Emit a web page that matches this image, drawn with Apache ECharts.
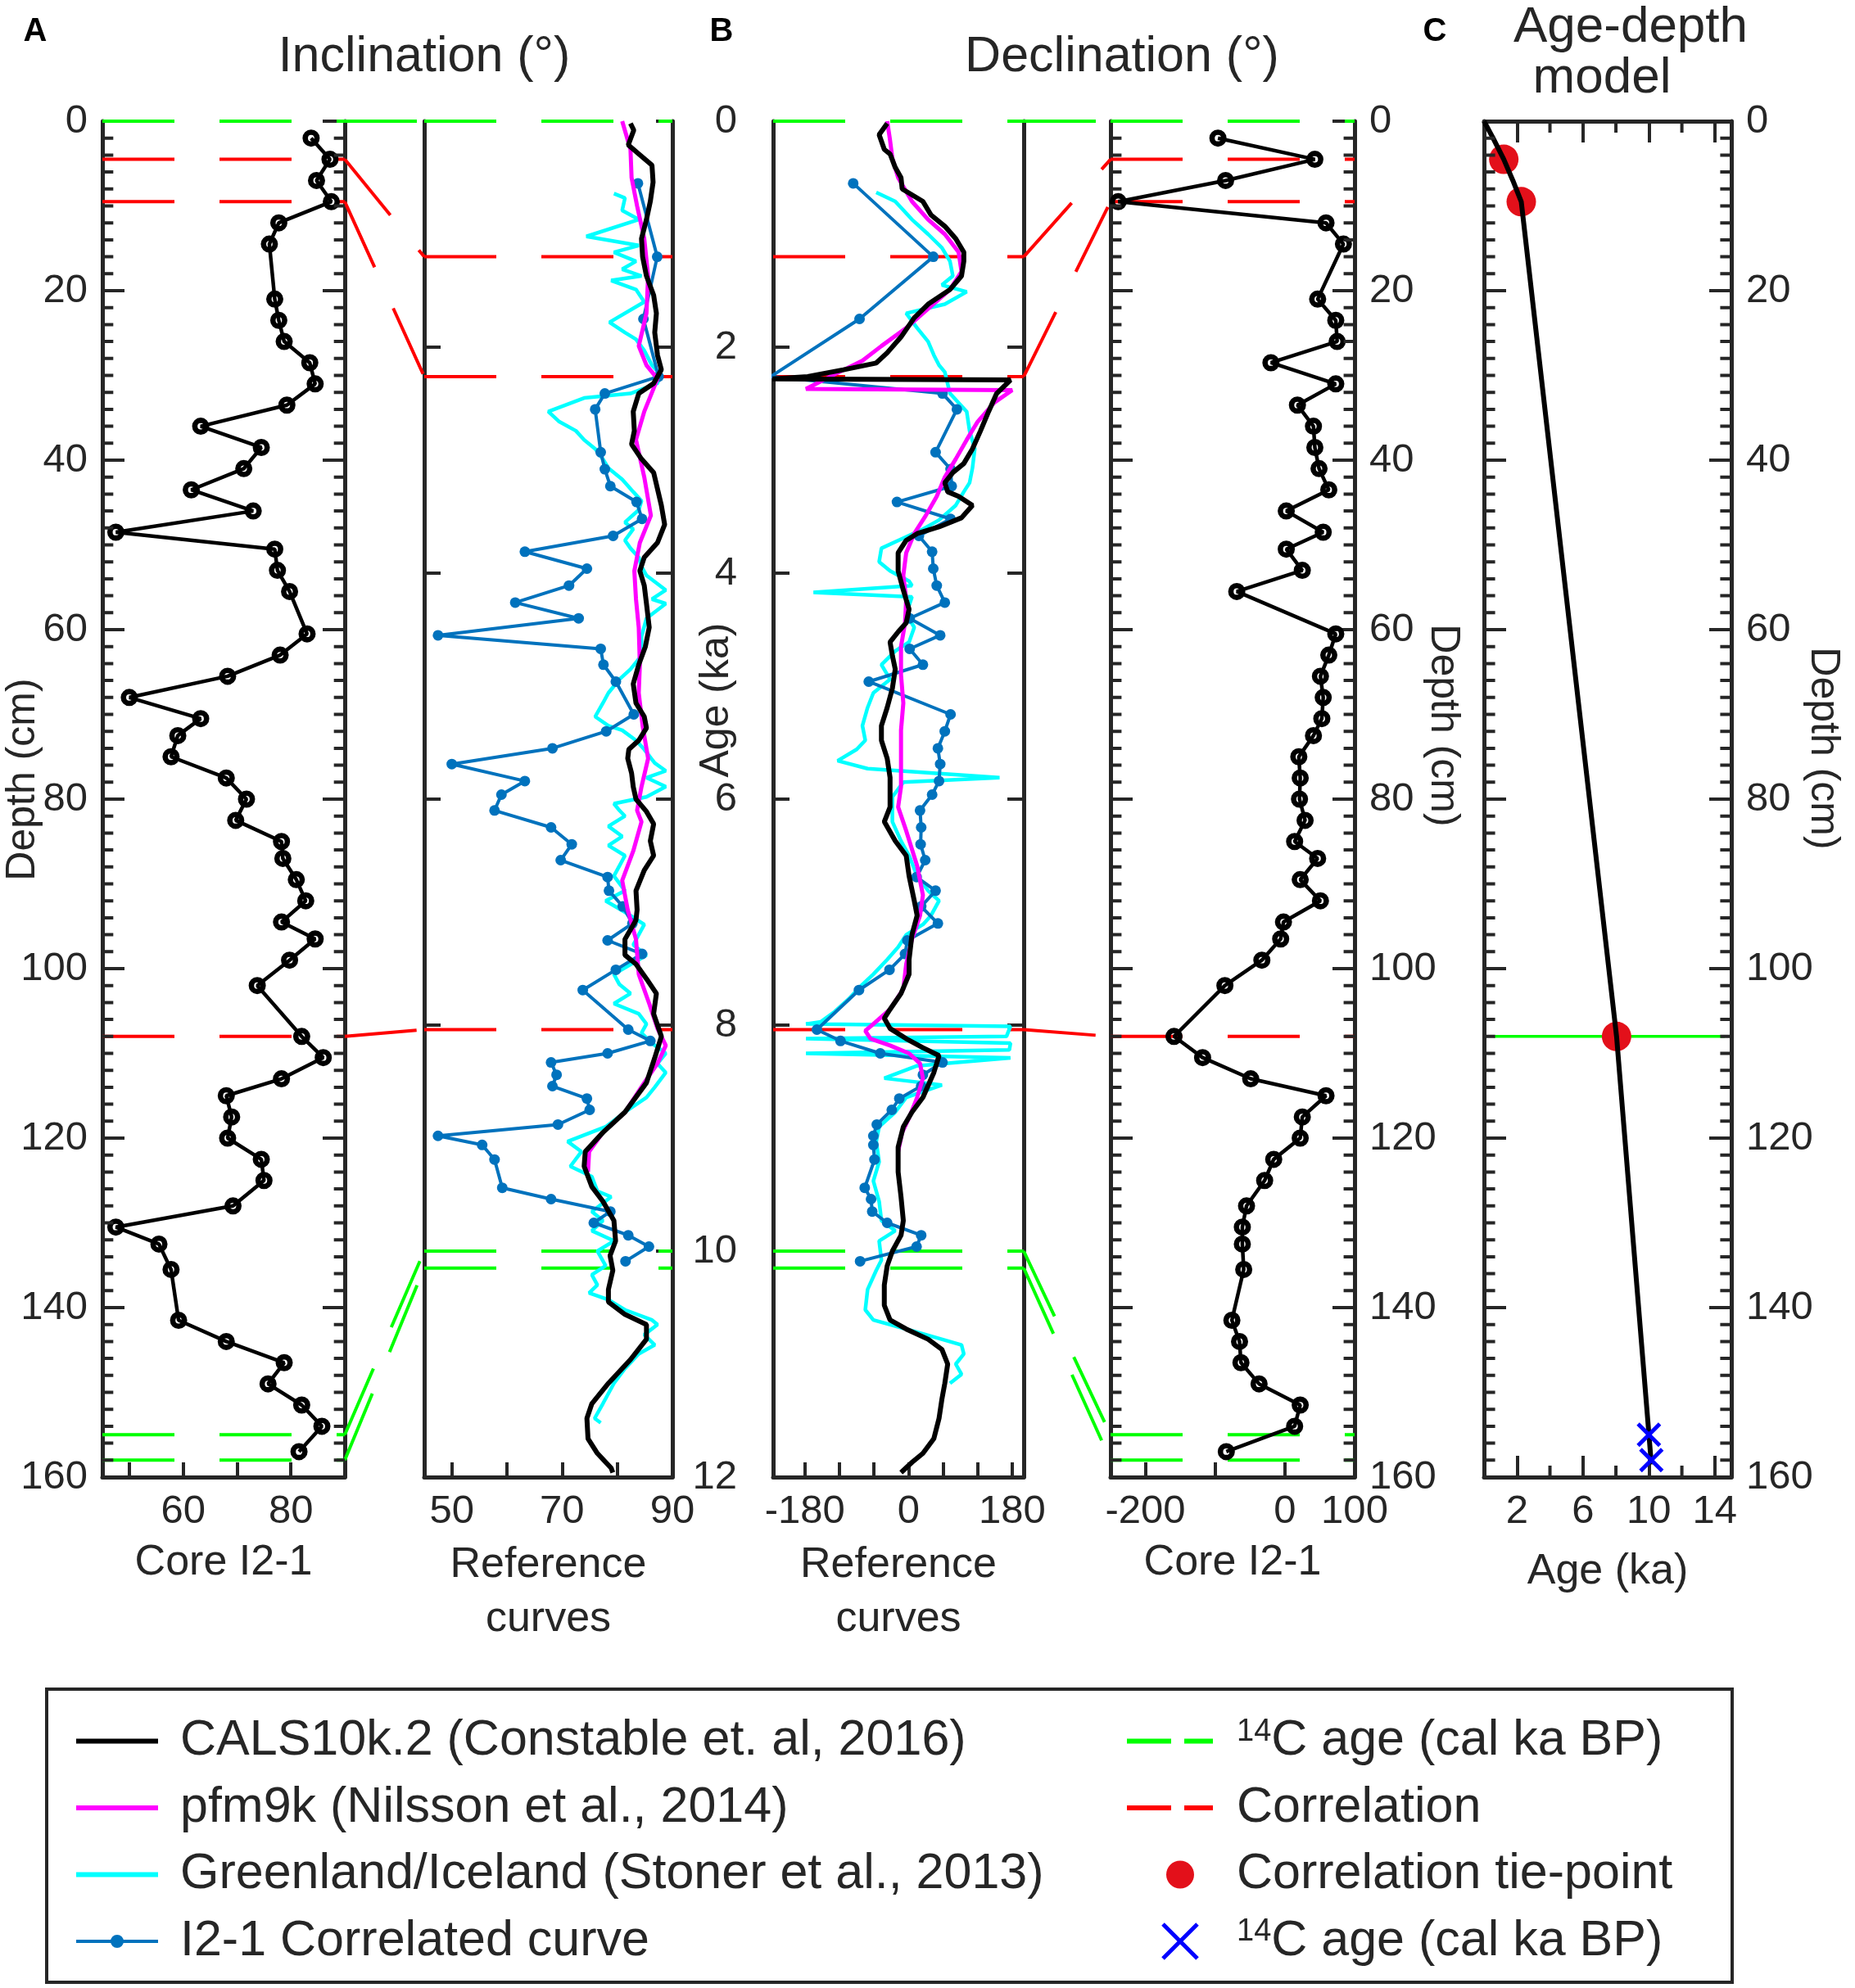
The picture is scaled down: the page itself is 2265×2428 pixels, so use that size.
<!DOCTYPE html>
<html>
<head>
<meta charset="utf-8">
<title>Core I2-1 paleomagnetic correlation</title>
<script src="https://cdn.jsdelivr.net/npm/echarts@6.0.0/dist/echarts.min.js"></script>
<style>
html,body{margin:0;padding:0;background:#ffffff;}
#chart{width:2265px;height:2428px;}
</style>
</head>
<body>
<div id="chart"></div>
<script>
// ---------------- DATA ----------------
const coreDepth = [2,4.5,7,9.5,12,14.5,21,23.5,26,28.5,31,33.5,36,38.5,41,43.5,46,48.5,50.5,53,55.5,60.5,63,65.5,68,70.5,72.5,75,77.5,80,82.5,85,87,89.5,92,94.5,96.5,99,102,108,110.5,113,115,117.5,120,122.5,125,128,130.5,132.5,135.5,141.5,144,146.5,149,151.5,154,157];
const coreInc = [83.75,87.25,84.75,87.5,77.75,76.0,77.0,77.75,78.75,83.5,84.5,79.25,63.25,74.5,71.25,61.5,73.0,47.5,77.0,77.5,79.75,83.0,78.0,68.25,50.0,63.25,59.0,57.75,68.0,71.75,69.75,78.25,78.5,81.0,82.75,78.25,84.5,79.75,73.75,82.0,86.0,78.25,68.0,69.0,68.25,74.5,75.0,69.25,47.5,55.5,57.75,59.15,68.0,78.75,75.75,82.0,85.75,81.5];
const coreDec = [-96,43,-85,-239,59,84,47,73,75,-20,73,18,41,43,49,63,2,55,2,25,-69,73,63,51,55,53,41,20,22,21,29,14,47,22,51,-2,-6,-33,-86,-159,-118,-49,59,25,22,-16,-29,-55,-61,-61,-59,-76,-65,-63,-37,22,14,-84];
const correlatedAge = [0.55,1.2,1.75,2.26,2.41,2.55,2.93,3.08,3.23,3.37,3.52,3.67,3.81,3.96,4.11,4.26,4.40,4.55,4.67,4.81,4.96,5.25,5.40,5.55,5.69,5.84,5.96,6.10,6.25,6.40,6.54,6.69,6.81,6.95,7.10,7.25,7.37,7.51,7.69,8.04,8.14,8.25,8.33,8.44,8.54,8.65,8.75,8.88,8.98,9.06,9.19,9.44,9.54,9.65,9.75,9.86,9.96,10.09];

const calsIncAge = [0.02,0.08,0.21,0.29,0.39,0.54,0.71,0.87,1.04,1.20,1.37,1.54,1.70,1.87,2.07,2.20,2.32,2.41,2.57,2.74,2.86,2.99,3.11,3.40,3.57,3.73,3.86,3.98,4.11,4.27,4.48,4.65,4.81,4.98,5.15,5.27,5.37,5.48,5.56,5.64,5.77,5.89,6.00,6.11,6.22,6.37,6.50,6.63,6.81,6.98,7.07,7.24,7.38,7.46,7.59,7.72,7.90,8.10,8.29,8.51,8.77,8.95,9.12,9.25,9.43,9.56,9.73,9.91,10.04,10.17,10.34,10.45,10.56,10.65,10.78,10.96,11.17,11.35,11.48,11.66,11.79,11.92,11.96];
const calsInc = [82.4,83.0,82.0,83.9,86.3,86.5,86.0,85.3,84.4,84.6,85.3,86.6,87.1,86.8,87.3,88.0,86.6,83.9,82.9,83.1,82.6,84.4,86.6,88.0,88.6,87.3,84.9,84.1,84.9,85.3,85.8,85.1,83.9,82.9,83.4,84.9,85.3,83.9,82.1,81.9,82.6,82.9,83.4,85.3,86.6,86.0,86.6,84.9,83.4,83.6,83.4,81.4,81.4,83.4,85.3,87.1,86.6,88.0,86.8,85.3,81.4,77.4,74.2,74.0,75.4,77.4,79.4,79.7,78.7,79.2,78.4,78.4,81.4,85.3,85.3,82.4,78.4,75.4,74.5,74.7,76.4,78.9,79.2];
const calsDecAge = [0.02,0.12,0.25,0.29,0.41,0.50,0.60,0.71,0.83,0.93,1.04,1.16,1.24,1.37,1.49,1.62,1.74,1.91,2.05,2.14,2.20,2.26,2.28,2.29,2.41,2.57,2.74,2.90,3.03,3.11,3.20,3.28,3.32,3.40,3.51,3.59,3.65,3.71,3.82,3.98,4.15,4.32,4.44,4.52,4.61,4.73,4.85,5.02,5.19,5.35,5.48,5.64,5.81,5.98,6.07,6.20,6.37,6.50,6.68,6.90,7.03,7.20,7.42,7.55,7.72,7.86,7.94,8.03,8.12,8.20,8.27,8.42,8.64,8.77,8.90,9.08,9.30,9.52,9.73,9.86,10.00,10.13,10.30,10.48,10.61,10.69,10.78,10.87,11.00,11.17,11.31,11.48,11.66,11.79,11.87,11.96];
const calsDec = [-37,-51,-42,-32,-23,-13,-11,25,39,63,82,96,96,92,72,34,10,-13,-37,-56,-113,-175,-236,177,153,139,125,111,96,77,63,68,87,111,92,53,15,-4,-18,-18,-9,1,-4,-18,-32,-28,-23,-28,-37,-47,-47,-37,-32,-32,-32,-42,-23,-4,1,10,15,6,1,1,-13,-32,-42,-32,-4,25,53,44,25,6,-9,-18,-18,-13,-9,-13,-28,-37,-42,-42,-32,-4,34,58,68,63,58,53,44,25,6,-13];

const pfmIncAge = [0.0,0.25,0.5,0.75,1.04,1.37,1.70,1.99,2.16,2.28,2.57,2.82,3.15,3.49,3.73,3.98,4.23,4.48,4.81,5.06,5.35,5.64,5.89,6.10,6.20,6.46,6.72,6.98,7.24,7.55,7.81,8.03,8.18,8.34,8.51,8.77,8.95,9.12,9.30];
const pfmInc = [80.9,82.4,82.6,83.6,84.9,85.6,85.3,83.9,85.3,87.3,84.9,83.4,84.9,86.1,84.1,83.1,83.4,83.9,84.1,83.9,84.6,85.6,84.4,83.6,84.4,82.9,80.9,81.9,83.4,83.9,85.8,87.3,88.8,87.3,84.9,81.4,77.4,74.9,74.7];
const pfmDecAge = [0.00,0.17,0.33,0.50,0.71,0.87,1.00,1.16,1.33,1.49,1.66,1.83,1.99,2.12,2.24,2.37,2.38,2.49,2.66,2.82,2.99,3.15,3.32,3.49,3.65,3.82,4.02,4.23,4.44,4.65,4.90,5.15,5.39,5.64,5.89,6.07,6.28,6.59,6.85,7.03,7.24,7.46,7.68,7.86,7.99,8.05,8.12,8.18,8.25,8.34,8.47,8.64,8.82,8.95,9.12];
const pfmDec = [-37,-32,-28,-18,6,34,63,87,92,72,34,-4,-47,-80,-128,-178,180,149,120,101,82,63,49,30,10,-4,-9,-4,-6,-13,-13,-9,-13,-13,-13,-18,-4,15,25,20,6,-4,-9,-32,-61,-75,-66,-32,1,20,25,15,1,-11,-18];

const glIncAge = [0.64,0.68,0.79,0.87,1.02,1.10,1.16,1.24,1.31,1.37,1.41,1.49,1.60,1.78,1.87,1.93,2.03,2.16,2.24,2.32,2.41,2.45,2.57,2.66,2.74,2.82,2.90,2.99,3.07,3.17,3.28,3.36,3.44,3.55,3.61,3.71,3.78,3.86,3.94,4.02,4.15,4.23,4.27,4.40,4.56,4.73,4.85,4.94,5.06,5.15,5.27,5.35,5.39,5.48,5.56,5.68,5.75,5.81,5.89,5.98,6.04,6.10,6.15,6.24,6.33,6.41,6.50,6.68,6.81,6.90,7.00,7.11,7.29,7.38,7.55,7.64,7.72,7.81,7.90,7.99,8.07,8.16,8.25,8.34,8.42,8.55,8.64,8.77,8.90,9.03,9.12,9.25,9.34,9.47,9.52,9.65,9.73,9.82,9.91,10.00,10.13,10.21,10.30,10.37,10.43,10.52,10.61,10.65,10.74,10.83,10.91,11.04,11.17,11.35,11.48,11.52];
const glInc = [79.4,81.4,80.9,83.9,74.4,83.9,79.4,83.4,80.9,84.4,78.9,83.4,84.9,78.6,81.4,83.4,84.9,86.3,87.8,87.3,82.4,74.0,67.5,69.5,72.5,74.0,76.0,77.4,78.4,80.9,82.9,84.4,83.9,81.4,82.9,81.4,82.4,83.9,84.4,85.3,88.8,86.3,88.8,85.3,84.4,84.4,82.4,80.4,78.4,77.4,76.0,78.4,80.9,83.4,84.9,86.8,88.8,85.3,88.8,85.3,79.4,80.4,81.4,78.4,80.9,78.4,81.4,79.4,81.4,77.9,81.4,84.9,82.9,85.3,79.4,80.4,82.4,79.4,83.9,85.3,84.4,86.3,88.8,87.3,88.8,86.8,85.3,81.4,77.9,71.0,73.5,71.5,75.4,76.4,78.9,75.4,77.4,75.4,79.4,76.4,77.9,75.4,76.4,74.9,78.4,81.4,86.3,87.3,84.9,86.8,83.9,81.4,79.4,77.4,75.9,77.0];
const glDecAge = [0.63,0.71,0.87,1.00,1.12,1.24,1.37,1.45,1.51,1.62,1.70,1.83,1.95,2.07,2.16,2.22,2.41,2.57,2.74,2.90,3.07,3.20,3.28,3.40,3.53,3.61,3.69,3.78,3.90,3.98,4.07,4.11,4.17,4.21,4.36,4.48,4.61,4.69,4.81,4.94,5.06,5.19,5.35,5.48,5.56,5.66,5.73,5.81,5.85,5.98,6.10,6.20,6.37,6.50,6.68,6.81,6.90,7.03,7.11,7.20,7.31,7.42,7.55,7.64,7.77,7.88,7.97,7.99,8.01,8.10,8.12,8.16,8.22,8.25,8.29,8.36,8.47,8.53,8.64,8.77,8.90,9.03,9.21,9.38,9.56,9.73,9.82,9.91,10.08,10.17,10.34,10.52,10.61,10.69,10.76,10.83,10.91,11.00,11.09,11.17];
const glDec = [-56,-23,6,34,58,72,77,58,101,63,-4,15,34,44,53,63,72,101,106,115,111,106,96,82,53,25,-9,-47,-51,-32,1,6,-165,6,-4,10,1,-23,-47,-32,-61,-71,-80,-75,-90,-123,-71,158,-9,-28,-28,-28,-13,1,15,34,53,39,25,-4,-18,-37,-61,-80,-104,-128,-152,-178,177,170,-178,177,175,-178,177,15,-42,58,-4,-23,-51,-56,-51,-61,-51,-47,-23,-51,-47,-56,-71,-75,-61,-4,44,92,96,82,92,72];

const corrDepth = [4.5, 9.5, 108];
const corrAge = [1.2, 2.26, 8.04];
const c14LineDepth = [0, 155, 158];
const c14LineAge = [0, 10.0, 10.15];

const modelAge = [0, 0.55, 1.2, 1.75, 2.26, 8.04, 10.15];
const modelDepth = [0, 2, 4.5, 7, 9.5, 108, 158.5];
const tieAge = [1.2, 2.26, 8.04];
const tieDepth = [4.5, 9.5, 108];
const c14Age = [10.0, 10.15];
const c14Depth = [155, 158];
const tieLevelAgeSpan = [0.6, 14.6];

const incRange = [45, 90];
const refDecRange = [-235, 200];
const coreDecRange = [-250, 100];
const ageModelRange = [0, 15];
const depthRange = [0, 160];
const incTicks = [50, 60, 70, 80, 90];
const coreIncLabels = [60, 80];
const refIncLabels = [50, 70, 90];
const refDecTicks = [-180, -120, -60, 0, 60, 120, 180];
const refDecLabels = [-180, 0, 180];
const coreDecTicks = [-200, -100, 0, 100];
const coreDecLabels = [-200, 0, 100];
const ageMajor = [2, 6, 10, 14];
const ageMinor = [4, 8, 12];
const minorDepthTicks = [2,4,6,8,10,12,14,16,18,22,24,26,28,30,32,34,36,38,42,44,46,48,50,52,54,56,58,62,64,66,68,70,72,74,76,78,82,84,86,88,90,92,94,96,98,102,104,106,108,110,112,114,116,118,122,124,126,128,130,132,134,136,138,142,144,146,148,150,152,154,156,158];

// ---------------- STYLE ----------------
const FONT = '"Liberation Sans", Arial, Helvetica, sans-serif';
const AX = '#262626';
const RED = '#FF0000', GREEN = '#00FF00', BLUE = '#0072BD', CYAN = '#00FFFF', MAG = '#FF00FF';
const DOTRED = '#E3101A', XBLUE = '#0000FF';
const DASH = [88, 55];
const TICKCOL = AX;

const CALS_NAME = 'CALS10k.2 (Constable et. al, 2016)';
const PFM_NAME = 'pfm9k (Nilsson et al., 2014)';
const GL_NAME = 'Greenland/Iceland (Stoner et al., 2013)';
const COR_NAME = 'I2-1 Correlated curve';
const C14L_NAME = '14C age (cal ka BP)';
const CORR_NAME = 'Correlation';
const TIE_NAME = 'Correlation tie-point';
const C14D_NAME = '14C age (cal ka BP) dated';

const ICON_LINE = 'path://M0,0L0,0ZM100,20L100,20ZM0,7L100,7L100,13L0,13Z';
const ICON_LINE_DOT = 'path://M0,0L0,0ZM100,20L100,20ZM0,8L100,8L100,12L0,12ZM42,10A8,8 0 1,1 58,10A8,8 0 1,1 42,10Z';
const ICON_DASH = 'path://M0,0L0,0ZM105,46L105,46ZM0,20L54,20L54,26L0,26ZM70,20L105,20L105,26L70,26Z';
const ICON_DOT = 'path://M0,0L0,0ZM105,46L105,46ZM48,23A17,17 0 1,1 82,23A17,17 0 1,1 48,23Z';
const ICON_X = 'path://M0,0L0,0ZM105,46L105,46ZM45.77,0.23L87.77,42.23L84.23,45.77L42.23,3.77ZM87.77,3.77L45.77,45.77L42.23,42.23L84.23,0.23Z';
const SYMBOL_X = 'path://M6.47,1.53L44.47,39.53L39.53,44.47L1.53,6.47ZM44.47,6.47L6.47,44.47L1.53,39.53L39.53,1.53Z';
const SYMBOL_RING = 'path://M0,10A10,10 0 1,1 20,10A10,10 0 1,1 0,10ZM6.3,10A3.7,3.7 0 1,0 13.7,10A3.7,3.7 0 1,0 6.3,10Z';

const GT = 148, GH = 1656;
const grid = [
  {left: 125, top: GT, width: 296, height: GH},
  {left: 518, top: GT, width: 303, height: GH},
  {left: 944, top: GT, width: 306, height: GH},
  {left: 1356, top: GT, width: 298, height: GH},
  {left: 1812, top: GT, width: 302, height: GH}
];

function lineAx(w) { return {show: true, onZero: false, lineStyle: {color: AX, width: w || 5}}; }
function xAx(gridIndex, range, ticks, labels, name, nameGap, opts) {
  opts = opts || {};
  return {
    type: 'value', gridIndex: gridIndex, min: range[0], max: range[1],
    position: opts.position || 'bottom',
    axisLine: lineAx(),
    axisTick: {show: true, inside: true, length: opts.tickLen || 18, customValues: ticks, lineStyle: {color: AX, width: 4}},
    axisLabel: labels ? {show: true, margin: 18, fontSize: 49, color: AX, fontFamily: FONT, customValues: labels, showMinLabel: true, showMaxLabel: true} : {show: false},
    splitLine: {show: false},
    name: name || '', nameLocation: 'middle', nameGap: nameGap || 0,
    nameTextStyle: {fontSize: 52, color: AX, fontFamily: FONT, lineHeight: 66}
  };
}
function depthAx(gridIndex, position, showLabel) {
  return {
    type: 'value', gridIndex: gridIndex, position: position, min: depthRange[0], max: depthRange[1], interval: 20, inverse: true,
    axisLine: lineAx(),
    axisTick: {show: true, inside: true, length: 27, lineStyle: {color: AX, width: 4}},
    axisLabel: {show: showLabel, margin: 18, fontSize: 49, color: AX, fontFamily: FONT, showMinLabel: true, showMaxLabel: true},
    splitLine: {show: false}
  };
}
function ageAx(gridIndex, position, showLabel) {
  return {
    type: 'value', gridIndex: gridIndex, position: position, min: 0, max: 12, interval: 2, inverse: true,
    axisLine: lineAx(),
    axisTick: {show: true, inside: true, length: 20, lineStyle: {color: AX, width: 4}},
    axisLabel: {show: showLabel, margin: 44, fontSize: 49, color: AX, fontFamily: FONT, showMinLabel: true, showMaxLabel: true},
    splitLine: {show: false}
  };
}
const xAxis = [
  xAx(0, incRange, incTicks, coreIncLabels, 'Core I2-1', 71),
  xAx(1, incRange, incTicks, refIncLabels, 'Reference\ncurves', 75),
  xAx(2, refDecRange, refDecTicks, refDecLabels, 'Reference\ncurves', 75),
  xAx(3, coreDecRange, coreDecTicks, coreDecLabels, 'Core I2-1', 71),
  xAx(4, ageModelRange, ageMajor, ageMajor, 'Age (ka)', 83, {tickLen: 26}),
  xAx(4, ageModelRange, ageMajor, null, '', 0, {tickLen: 26, position: 'top'})
];
const yAxis = [
  depthAx(0, 'left', true), depthAx(0, 'right', false),
  ageAx(1, 'left', false), ageAx(1, 'right', false),
  ageAx(2, 'left', true), ageAx(2, 'right', false),
  depthAx(3, 'left', false), depthAx(3, 'right', true),
  depthAx(4, 'left', false), depthAx(4, 'right', true)
];

// ---------------- SERIES ----------------
const series = [];
const panels = [
  {x: 0, y: 0, range: incRange, kind: 'depth'},
  {x: 1, y: 2, range: incRange, kind: 'age'},
  {x: 2, y: 4, range: refDecRange, kind: 'age'},
  {x: 3, y: 6, range: coreDecRange, kind: 'depth'}
];
function hLine(name, color, p, v) {
  return {type: 'line', name: name, xAxisIndex: p.x, yAxisIndex: p.y,
    data: [[p.range[0], v], [p.range[1], v]], symbol: 'none', showSymbol: false,
    lineStyle: {color: color, width: 4, type: DASH}, itemStyle: {color: color}, silent: true, z: 1};
}
panels.forEach(function (p) {
  const cv = p.kind === 'depth' ? corrDepth : corrAge;
  const gv = p.kind === 'depth' ? c14LineDepth : c14LineAge;
  cv.forEach(function (v) { series.push(hLine(CORR_NAME, RED, p, v)); });
  gv.forEach(function (v) { series.push(hLine(C14L_NAME, GREEN, p, v)); });
});
function pairs(a, b) { return a.map(function (v, i) { return [v, b[i]]; }); }
function refLine(name, color, width, xi, yi, xs, ys, z) {
  return {type: 'line', name: name, xAxisIndex: xi, yAxisIndex: yi, data: pairs(xs, ys),
    symbol: 'none', showSymbol: false, lineStyle: {color: color, width: width}, itemStyle: {color: color}, z: z, silent: true};
}
function coreLine(name, xi, yi, vals) {
  return {type: 'line', name: name, xAxisIndex: xi, yAxisIndex: yi, data: pairs(vals, coreDepth),
    symbol: SYMBOL_RING, symbolSize: 21, showSymbol: true,
    lineStyle: {color: '#000', width: 4.5}, itemStyle: {color: '#000', borderWidth: 0, opacity: 1}, z: 3, silent: true};
}
function corrLine(xi, yi, vals) {
  return {type: 'line', name: COR_NAME, xAxisIndex: xi, yAxisIndex: yi, data: pairs(vals, correlatedAge),
    symbol: 'circle', symbolSize: 13, showSymbol: true,
    lineStyle: {color: BLUE, width: 4}, itemStyle: {color: BLUE, borderWidth: 0}, z: 3, silent: true};
}
// Minor depth ticks (every 2 cm) as short segments on both panel edges
function minorTickSeries(xi, yi, range) {
  const w = (range[1] - range[0]) * 0.045;
  const data = [];
  minorDepthTicks.forEach(function (d) {
    data.push([range[0], d], [range[0] + w, d], '-');
    data.push([range[1] - w, d], [range[1], d], '-');
  });
  return {type: 'line', name: 'minor ticks', xAxisIndex: xi, yAxisIndex: yi, data: data,
    symbol: 'none', showSymbol: false, connectNulls: false, clip: false,
    lineStyle: {color: TICKCOL, width: 4}, itemStyle: {color: TICKCOL}, z: 6, silent: true};
}
series.push(coreLine('Core I2-1 inclination', 0, 0, coreInc));
series.push(minorTickSeries(0, 0, incRange));
series.push(refLine(GL_NAME, CYAN, 4.5, 1, 2, glInc, glIncAge, 2));
series.push(corrLine(1, 2, coreInc));
series.push(refLine(PFM_NAME, MAG, 5, 1, 2, pfmInc, pfmIncAge, 4));
series.push(refLine(CALS_NAME, '#000000', 6, 1, 2, calsInc, calsIncAge, 5));
series.push(refLine(GL_NAME, CYAN, 4.5, 2, 4, glDec, glDecAge, 2));
series.push(corrLine(2, 4, coreDec));
series.push(refLine(PFM_NAME, MAG, 5, 2, 4, pfmDec, pfmDecAge, 4));
series.push(refLine(CALS_NAME, '#000000', 6, 2, 4, calsDec, calsDecAge, 5));
series.push(coreLine('Core I2-1 declination', 3, 6, coreDec));
series.push(minorTickSeries(3, 6, coreDecRange));
series.push(minorTickSeries(4, 8, ageModelRange));
series.push({type: 'line', name: 'Tie level', xAxisIndex: 4, yAxisIndex: 8,
  data: tieLevelAgeSpan.map(function (a) { return [a, tieDepth[2]]; }),
  symbol: 'none', lineStyle: {color: GREEN, width: 3.5}, itemStyle: {color: GREEN}, z: 1, silent: true});
series.push({type: 'scatter', name: TIE_NAME, xAxisIndex: 4, yAxisIndex: 8, data: pairs(tieAge, tieDepth),
  symbol: 'circle', symbolSize: 36, itemStyle: {color: DOTRED, opacity: 1}, z: 3, silent: true});
series.push(refLine('Age-depth model', '#000000', 6, 4, 8, modelAge, modelDepth, 4));
series.push({type: 'scatter', name: C14D_NAME, xAxisIndex: 4, yAxisIndex: 8, data: pairs(c14Age, c14Depth),
  symbol: SYMBOL_X, symbolSize: 30, itemStyle: {color: XBLUE, opacity: 1}, z: 5, silent: true});

// ---------------- LEGEND ----------------
const legendText = {fontSize: 61, color: AX, fontFamily: FONT, lineHeight: 60};
const legend = [
  {left: 93, top: 2096, orient: 'vertical', padding: 0, itemWidth: 100, itemHeight: 20, itemGap: 20.5,
    selectedMode: false, itemStyle: {borderWidth: 0, opacity: 1},
    textStyle: Object.assign({padding: [0, 0, 0, 22]}, legendText),
    data: [
      {name: CALS_NAME, icon: ICON_LINE},
      {name: PFM_NAME, icon: ICON_LINE},
      {name: GL_NAME, icon: ICON_LINE},
      {name: COR_NAME, icon: ICON_LINE_DOT}
    ]},
  {left: 1376, top: 2096, orient: 'vertical', padding: 0, itemWidth: 105, itemHeight: 46, itemGap: 20.5,
    selectedMode: false, itemStyle: {borderWidth: 0, opacity: 1},
    formatter: function (name) {
      return name.indexOf('14C') === 0 ? '{sup|14}{t|C age (cal ka BP)}' : '{t|' + name + '}';
    },
    textStyle: Object.assign({padding: [0, 0, 0, 24], rich: {
      t: {fontSize: 61, color: AX, fontFamily: FONT, lineHeight: 60},
      sup: {fontSize: 38, color: AX, fontFamily: FONT, lineHeight: 38, verticalAlign: 'top'}
    }}, legendText),
    data: [
      {name: C14L_NAME, icon: ICON_DASH},
      {name: CORR_NAME, icon: ICON_DASH},
      {name: TIE_NAME, icon: ICON_DOT},
      {name: C14D_NAME, icon: ICON_X}
    ]}
];

const option = {
  animation: false,
  backgroundColor: '#ffffff',
  textStyle: {fontFamily: FONT},
  grid: grid, xAxis: xAxis, yAxis: yAxis, legend: legend, series: series
};

const chart = echarts.init(document.getElementById('chart'), null, {renderer: 'canvas', width: 2265, height: 2428});
chart.setOption(option);

// ---------------- TEXT, CONNECTORS ----------------
function txt(text, x, y, size, rot, bold) {
  return {type: 'text', x: x, y: y, rotation: rot || 0, silent: true, z: 10,
    style: {text: text, fill: bold ? '#000' : AX, fontSize: size, fontFamily: FONT, fontWeight: bold ? 'bold' : 'normal',
      align: 'center', verticalAlign: 'middle', textAlign: 'center', textVerticalAlign: 'middle'}};
}
const elements = [
  txt('A', 43, 39, 40, 0, true),
  txt('B', 881, 39, 40, 0, true),
  txt('C', 1752, 39, 40, 0, true),
  txt('Inclination (°)', 518, 70, 61),
  txt('Declination (°)', 1370, 70, 61),
  txt('Age-depth', 1991, 34, 62),
  txt('model', 1956, 96, 62),
  txt('Depth (cm)', 28, 952, 50, Math.PI / 2),
  txt('Age (ka)', 875, 855, 50, Math.PI / 2),
  txt('Depth (cm)', 1762, 886, 50, -Math.PI / 2),
  txt('Depth (cm)', 2226, 914, 50, -Math.PI / 2),
  {type: 'rect', silent: true, z: 0, shape: {x: 57, y: 2063, width: 2058, height: 358},
    style: {fill: 'none', stroke: AX, lineWidth: 4}}
];
function px(xi, yi, x, y) { return chart.convertToPixel({xAxisIndex: xi, yAxisIndex: yi}, [x, y]); }
function seg(color, width, a, b, dash) {
  const st = {stroke: color, lineWidth: width};
  if (dash) st.lineDash = dash;
  elements.push({type: 'line', silent: true, z: dash ? 1 : 6,
    shape: {x1: a[0], y1: a[1], x2: b[0], y2: b[1]}, style: st});
}
ageMinor.forEach(function (a) {
  const t = px(4, 8, a, depthRange[0]);
  const b = px(4, 8, a, depthRange[1]);
  seg(TICKCOL, 4, t, [t[0], t[1] + 14]);
  seg(TICKCOL, 4, [b[0], b[1] - 14], b);
});
function linkSet(color, depths, ages) {
  depths.forEach(function (d, k) {
    seg(color, 4, px(0, 0, incRange[1], d), px(1, 2, incRange[0], ages[k]), DASH);
    seg(color, 4, px(2, 4, refDecRange[1], ages[k]), px(3, 6, coreDecRange[0], d), DASH);
  });
}
linkSet(RED, corrDepth, corrAge);
linkSet(GREEN, c14LineDepth, c14LineAge);
chart.setOption({graphic: {elements: elements}});
</script>
</body>
</html>
